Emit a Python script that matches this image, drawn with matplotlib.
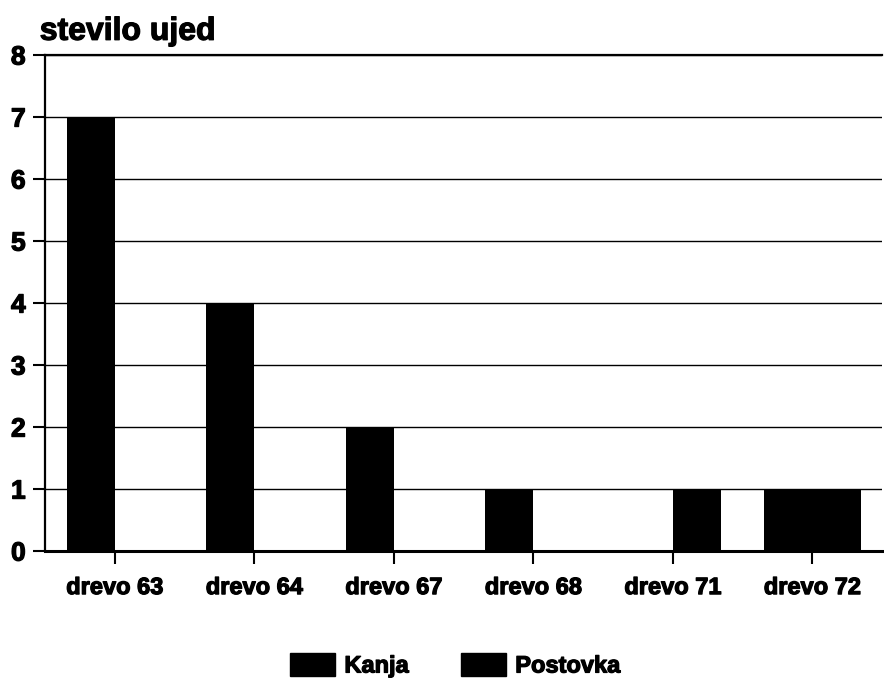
import numpy as np
import matplotlib.pyplot as plt
import matplotlib.patheffects as pe
from matplotlib.patches import Patch

# stevilo ujed po drevesih
drevesa = ['drevo 63', 'drevo 64', 'drevo 67', 'drevo 68', 'drevo 71', 'drevo 72']
kanja = [7, 4, 2, 1, 0, 1]
postovka = [0, 0, 0, 0, 1, 1]

plt.rcParams['font.family'] = ['Liberation Sans', 'DejaVu Sans']
plt.rcParams['font.weight'] = 'bold'

fig = plt.figure(figsize=(8.84, 6.88), dpi=100)
ax = fig.add_axes([0.051, 0.199, 0.947, 0.721])

x = np.arange(len(drevesa))
w = 0.345
ax.bar(x - w/2, kanja, w, color='black', zorder=3)
ax.bar(x + w/2, postovka, w, color='black', zorder=3)

ax.set_xlim(-0.5, 5.5)
ax.set_ylim(0, 8)
ax.set_yticks(range(0, 9))
ax.set_xticks(x)
ax.set_xticklabels(drevesa)
ax.yaxis.grid(True, color='black', linewidth=1.0, zorder=0)
ax.tick_params(axis='both', width=1.5, length=9, direction='out')
ax.tick_params(axis='x', labelsize=17, pad=9)
ax.tick_params(axis='y', labelsize=19, pad=5)

thick = [pe.withStroke(linewidth=0.9, foreground='black')]
for lab in ax.get_xticklabels() + ax.get_yticklabels():
    lab.set_fontweight('bold')
    lab.set_path_effects(thick)

ax.spines['right'].set_visible(False)
ax.spines['top'].set_linewidth(1.6)
ax.spines['left'].set_linewidth(1.6)
ax.spines['bottom'].set_linewidth(2.2)

fig.text(0.045, 0.932, 'stevilo ujed', fontsize=23, fontweight='bold', ha='left', va='bottom',
         path_effects=thick)

handles = [Patch(color='black', label='Kanja'), Patch(color='black', label='Postovka')]
leg = fig.legend(handles=handles, loc='center', bbox_to_anchor=(0.515, 0.033), ncol=2, frameon=False,
                 prop={'size': 17, 'weight': 'bold'}, handlelength=1.9, handleheight=1.1,
                 columnspacing=2.2, handletextpad=0.4)
for t in leg.get_texts():
    t.set_path_effects(thick)

plt.savefig('out.png', dpi=100)
